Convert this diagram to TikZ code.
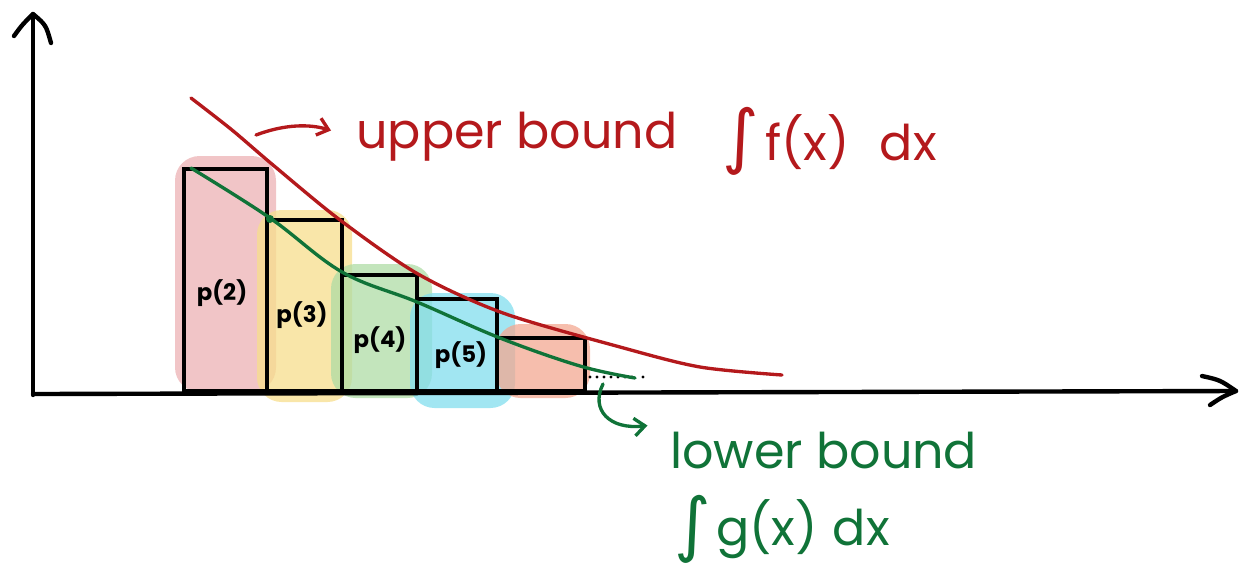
\documentclass[tikz,border=0pt]{standalone}
\usepackage{fontspec}
\setmainfont{Poppins}
\newfontfamily\intfont{DejaVu Sans}
\usetikzlibrary{arrows.meta}
\definecolor{ured}{RGB}{180,25,28}
\definecolor{lgreen}{RGB}{16,115,56}
\definecolor{bpink}{RGB}{236,178,180}
\definecolor{byellow}{RGB}{247,222,140}
\definecolor{bgreen}{RGB}{175,220,165}
\definecolor{bcyan}{RGB}{130,222,238}
\definecolor{bsalmon}{RGB}{243,168,145}
\tikzset{
  axis/.style={line width=2.5pt, line cap=round, line join=round},
  bar/.style={draw=black, line width=2.3pt},
  blob/.style={rounded corners=14pt, fill opacity=0.75},
  hand/.style={font=\fontsize{28}{30}\selectfont, inner sep=0pt},
  integ/.style={font=\intfont\fontsize{40}{40}\selectfont, inner sep=0pt},
  plabel/.style={font=\bfseries\fontsize{13}{15}\selectfont},
}
\begin{document}
\begin{tikzpicture}[x=0.02cm,y=-0.02cm]
\useasboundingbox (0,0) rectangle (1239,569);
% blobs
\fill[blob,bpink] (175,156) rectangle (276,392);
\fill[blob,byellow] (257,210) rectangle (352,402);
\fill[blob,bgreen] (331,264) rectangle (432,398);
\fill[blob,bcyan] (410,293) rectangle (515,408);
\fill[blob,bsalmon] (496,324) rectangle (590,398);
% bars
\draw[bar] (184,169) rectangle (267,391);
\draw[bar] (267,220) rectangle (342,391);
\draw[bar] (342,275) rectangle (417,391);
\draw[bar] (417,299) rectangle (497,391);
\draw[bar] (497,338) rectangle (585,391);
\node[plabel] (p2) at (222,293) {p(2)};
\node[plabel] (p3) at (302,315) {p(3)};
\node[plabel] (p4) at (380,340) {p(4)};
\node[plabel] (p5) at (461,355) {p(5)};
% axes
\draw[axis] (33,395) -- (33,14);
\draw[axis] (14,36) .. controls (22,25) .. (33,14) .. controls (46,25) .. (51,43);
\draw[axis] (33,394) -- (1236,391);
\draw[axis] (1202,376) .. controls (1220,380) .. (1236,391) .. controls (1222,397) .. (1210,405);
% dots
\foreach \x in {590,597,604,611,618,625,632,643}
  \fill (\x,377) circle (1.6);
% red upper curve
\draw[ured, line width=1.9pt, line cap=round]
  plot[smooth, tension=0.5] coordinates {(191,98) (232,130) (273,165) (340,220) (418,274) (503,313) (620,347) (700,367) (782,375)};
% green lower curve
\draw[lgreen, line width=1.9pt, line cap=round]
  plot[smooth, tension=0.6] coordinates {(191,168) (270,218) (342,272) (417,302) (500,338) (580,366) (635,378)};
\fill[lgreen] (270,219) circle (4);
% texts
\node[hand, ured, anchor=base west] (ub) at (356,148) {upper bound};
\node[integ, ured, anchor=base west] (fi) at (722,160) {∫};
\node[hand, ured, anchor=base west] (fx) at (765,160) {f(x)\hspace{0.6cm}dx};
\node[hand, lgreen, anchor=base west] (lb) at (670,468) {lower bound};
\node[integ, lgreen, anchor=base west] (gi) at (674,548) {∫};
\node[hand, lgreen, anchor=base west] (gx) at (716,545) {g(x)\hspace{0.3cm}dx};
% arrows
\coordinate (ua) at (256,135);
\draw[ured, line width=1.9pt, line cap=round, -{Straight Barb[length=6pt,width=10pt]}]
  (ua) .. controls (285,124) and (310,124) .. ([xshift=-0.5cm,yshift=0.35cm]ub.base west);
\coordinate (la) at (603,384);
\draw[lgreen, line width=1.9pt, line cap=round, -{Straight Barb[length=6pt,width=10pt]}]
  (la) .. controls (590,410) and (610,430) .. ([xshift=-0.45cm,yshift=0.85cm]lb.base west);
\end{tikzpicture}
\end{document}
